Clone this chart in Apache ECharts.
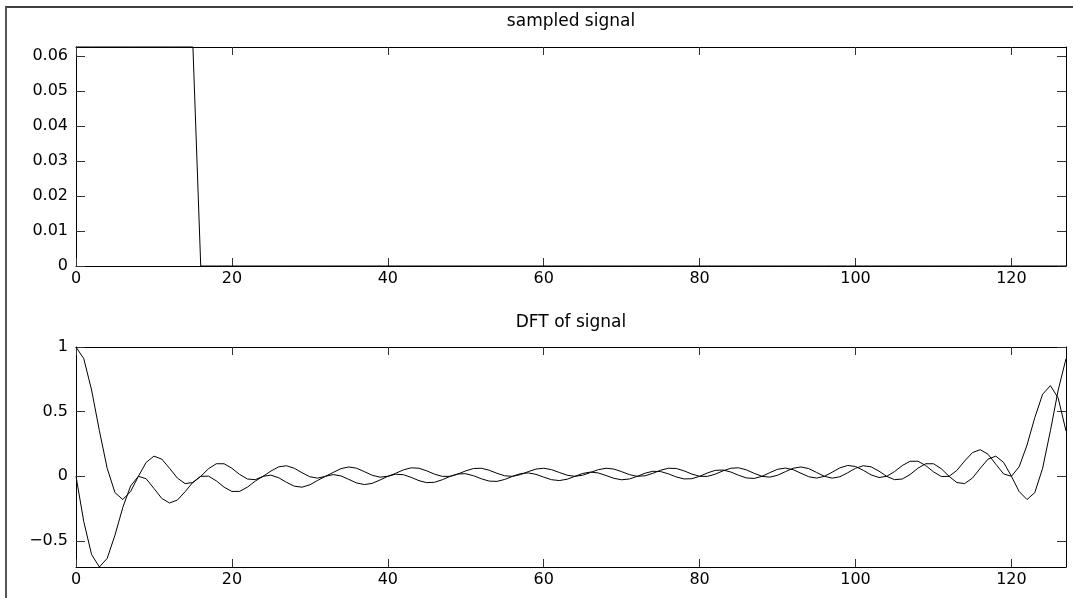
<!DOCTYPE html>
<html><head><meta charset="utf-8">
<script src="https://cdn.jsdelivr.net/npm/echarts@6/dist/echarts.min.js"></script>
<style>html,body{margin:0;padding:0;background:#fff}#c{width:1073px;height:598px}</style>
</head><body><div id="c"></div>
<script>
// sample index n = 0..127
const n = Array.from({length: 128}, (_, i) => i);

// sampled signal: 1/16 for n = 0..15, then zero
const signal = [
  0.0625,0.0625,0.0625,0.0625,0.0625,0.0625,0.0625,0.0625,0.0625,0.0625,0.0625,0.0625,0.0625,0.0625,0.0625,0.0625,
  0,0,0,0,0,0,0,0,0,0,0,0,0,0,0,0,
  0,0,0,0,0,0,0,0,0,0,0,0,0,0,0,0,
  0,0,0,0,0,0,0,0,0,0,0,0,0,0,0,0,
  0,0,0,0,0,0,0,0,0,0,0,0,0,0,0,0,
  0,0,0,0,0,0,0,0,0,0,0,0,0,0,0,0,
  0,0,0,0,0,0,0,0,0,0,0,0,0,0,0,0,
  0,0,0,0,0,0,0,0,0,0,0,0,0,0,0,0
];

// DFT of signal, real part
const dftReal = [
  1, 0.9093, 0.6674, 0.3529, 0.0625, -0.1258, -0.1794, -0.1182,
  0, 0.1076, 0.1560, 0.1332, 0.0625, -0.0135, -0.0561, -0.0481,
  0, 0.0590, 0.0973, 0.0972, 0.0625, 0.0143, -0.0209, -0.0257,
  0, 0.0405, 0.0734, 0.0817, 0.0625, 0.0277, -0.0032, -0.0141,
  0, 0.0302, 0.0596, 0.0724, 0.0625, 0.0361, 0.0081, -0.0064,
  0, 0.0231, 0.0500, 0.0659, 0.0625, 0.0422, 0.0165, -0.0006,
  0, 0.0177, 0.0424, 0.0606, 0.0625, 0.0472, 0.0234, 0.0042,
  0, 0.0130, 0.0359, 0.0561, 0.0625, 0.0517, 0.0297, 0.0086,
  0, 0.0086, 0.0297, 0.0517, 0.0625, 0.0561, 0.0359, 0.0130,
  0, 0.0042, 0.0234, 0.0472, 0.0625, 0.0606, 0.0424, 0.0177,
  0, -0.0006, 0.0165, 0.0422, 0.0625, 0.0659, 0.0500, 0.0231,
  0, -0.0064, 0.0081, 0.0361, 0.0625, 0.0724, 0.0596, 0.0302,
  0, -0.0141, -0.0032, 0.0277, 0.0625, 0.0817, 0.0734, 0.0405,
  0, -0.0257, -0.0209, 0.0143, 0.0625, 0.0972, 0.0973, 0.0590,
  0, -0.0481, -0.0561, -0.0135, 0.0625, 0.1332, 0.1560, 0.1076,
  0, -0.1182, -0.1794, -0.1258, 0.0625, 0.3529, 0.6674, 0.9093
];

// DFT of signal, imaginary part
const dftImag = [
  0, -0.3508, -0.6049, -0.7011, -0.6346, -0.4546, -0.2419, -0.0748,
  0, -0.0187, -0.0935, -0.1707, -0.2060, -0.1836, -0.1186, -0.0458,
  0, 0.0014, -0.0348, -0.0839, -0.1169, -0.1163, -0.0834, -0.0366,
  0, 0.0091, -0.0109, -0.0463, -0.0762, -0.0839, -0.0657, -0.0317,
  0, 0.0134, 0.0029, -0.0239, -0.0513, -0.0637, -0.0544, -0.0285,
  0, 0.0163, 0.0125, -0.0081, -0.0334, -0.0489, -0.0460, -0.0262,
  0, 0.0186, 0.0201, 0.0045, -0.0190, -0.0369, -0.0391, -0.0241,
  0, 0.0205, 0.0266, 0.0155, -0.0062, -0.0260, -0.0328, -0.0223,
  0, 0.0223, 0.0328, 0.0260, 0.0062, -0.0155, -0.0266, -0.0205,
  0, 0.0241, 0.0391, 0.0369, 0.0190, -0.0045, -0.0201, -0.0186,
  0, 0.0262, 0.0460, 0.0489, 0.0334, 0.0081, -0.0125, -0.0163,
  0, 0.0285, 0.0544, 0.0637, 0.0513, 0.0239, -0.0029, -0.0134,
  0, 0.0317, 0.0657, 0.0839, 0.0762, 0.0463, 0.0109, -0.0091,
  0, 0.0366, 0.0834, 0.1163, 0.1169, 0.0839, 0.0348, -0.0014,
  0, 0.0458, 0.1186, 0.1836, 0.2060, 0.1707, 0.0935, 0.0187,
  0, 0.0748, 0.2419, 0.4546, 0.6346, 0.7011, 0.6049, 0.3508
];

// tick labels
const xTicks = [0, 20, 40, 60, 80, 100, 120];
const yTicksTop = [0, 0.01, 0.02, 0.03, 0.04, 0.05, 0.06];
const yTicksBottom = [-0.5, 0, 0.5, 1];
const titles = ['sampled signal', 'DFT of signal'];

const FONT = 'DejaVu Sans';
const FS = 16;
const TFS = 17;

function xAx(gi, pos, showLabels) {
  return {
    type: 'value', gridIndex: gi, position: pos, min: 0, max: 127,
    axisLine: {show: true, onZero: false, lineStyle: {color: '#000', width: 1}},
    axisTick: {show: true, inside: true, length: 8, customValues: xTicks, lineStyle: {color: '#333', width: 1}},
    axisLabel: {show: showLabels, customValues: xTicks, margin: 5, color: '#000', fontFamily: FONT, fontSize: FS},
    splitLine: {show: false}
  };
}
function yAx(gi, pos, showLabels, min, max, ticks, fmt) {
  return {
    type: 'value', gridIndex: gi, position: pos, min: min, max: max,
    axisLine: {show: true, onZero: false, lineStyle: {color: '#000', width: 1}},
    axisTick: {show: true, inside: true, length: 9, customValues: ticks, lineStyle: {color: '#333', width: 1}},
    axisLabel: {show: showLabels, customValues: ticks, margin: 8, color: '#000', fontFamily: FONT, fontSize: FS, formatter: fmt},
    splitLine: {show: false}
  };
}
const fmtTop = v => (Math.abs(v) < 1e-9 ? '0' : v.toFixed(2));
const fmtBottom = v => String(Math.round(v * 100) / 100).replace('-', '\u2212');

const yMinB = Math.min(...dftReal, ...dftImag);
const yMaxB = Math.max(...dftReal, ...dftImag);
const yMaxT = Math.max(...signal);

const chart = echarts.init(document.getElementById('c'), null, {renderer: 'canvas'});
chart.setOption({
  animation: false,
  backgroundColor: '#fff',
  grid: [
    {left: 76, width: 990, top: 47, height: 219, containLabel: false},
    {left: 76, width: 990, top: 347, height: 220, containLabel: false}
  ],
  xAxis: [xAx(0, 'bottom', true), xAx(0, 'top', false), xAx(1, 'bottom', true), xAx(1, 'top', false)],
  yAxis: [
    yAx(0, 'left', true, 0, yMaxT, yTicksTop, fmtTop),
    yAx(0, 'right', false, 0, yMaxT, yTicksTop, fmtTop),
    yAx(1, 'left', true, yMinB, yMaxB, yTicksBottom, fmtBottom),
    yAx(1, 'right', false, yMinB, yMaxB, yTicksBottom, fmtBottom)
  ],
  graphic: [
    {type: 'line', shape: {x1: 5, y1: 7, x2: 1073, y2: 7}, style: {stroke: '#000', lineWidth: 1.5}, silent: true},
    {type: 'line', shape: {x1: 6, y1: 7, x2: 6, y2: 598}, style: {stroke: '#555', lineWidth: 2}, silent: true},
    {type: 'text', x: 571, y: 22, style: {text: titles[0], textAlign: 'center', textVerticalAlign: 'middle', fill: '#000', font: TFS + 'px "' + FONT + '"'}, silent: true},
    {type: 'text', x: 571, y: 323, style: {text: titles[1], textAlign: 'center', textVerticalAlign: 'middle', fill: '#000', font: TFS + 'px "' + FONT + '"'}, silent: true}
  ],
  series: [
    {type: 'line', xAxisIndex: 0, yAxisIndex: 0, showSymbol: false, symbol: 'none', clip: false,
     lineStyle: {color: '#000', width: 1}, data: n.map((x, i) => [x, signal[i]])},
    {type: 'line', xAxisIndex: 2, yAxisIndex: 2, showSymbol: false, symbol: 'none', clip: false,
     lineStyle: {color: '#000', width: 1}, data: n.map((x, i) => [x, dftReal[i]])},
    {type: 'line', xAxisIndex: 2, yAxisIndex: 2, showSymbol: false, symbol: 'none', clip: false,
     lineStyle: {color: '#000', width: 1}, data: n.map((x, i) => [x, dftImag[i]])}
  ]
});
</script>
</body></html>
